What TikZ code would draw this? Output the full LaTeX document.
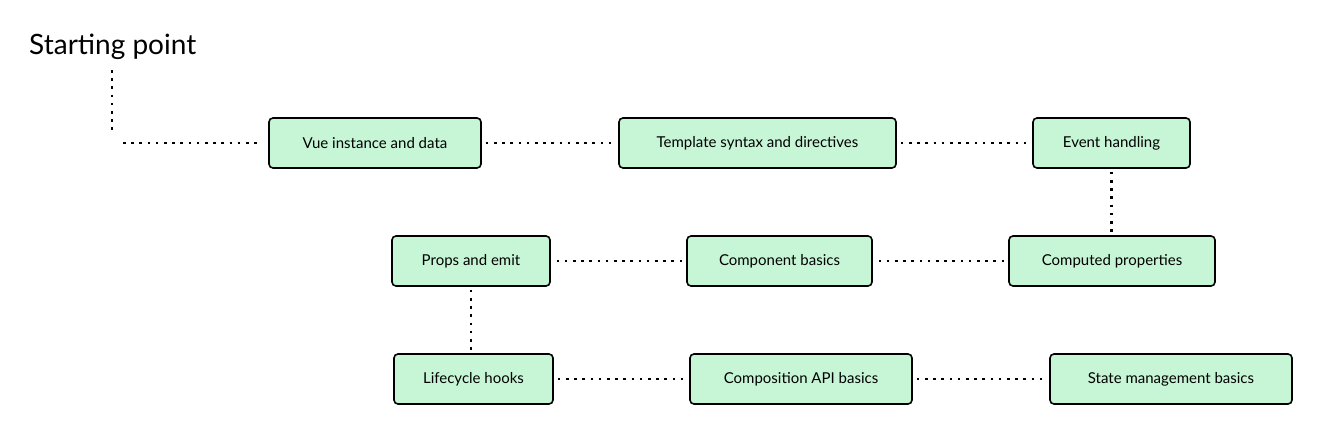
\documentclass[tikz,border=0pt]{standalone}
\usepackage{fontspec}
\setmainfont{Lato}
\definecolor{boxfill}{RGB}{198,246,214}
\begin{document}
\begin{tikzpicture}[x=1bp,y=-1bp,
  topic/.style={draw=black,line width=1.6bp,rounded corners=4bp,fill=boxfill,
    minimum height=50bp,inner sep=0pt,font=\fontsize{15bp}{18bp}\selectfont,text=black},
  link/.style={line width=2.6bp,dash pattern=on 2.6bp off 5.6bp},
]
\useasboundingbox (0,0) rectangle (1329,446);
\node[anchor=base west,inner sep=0pt,font=\fontsize{28bp}{32bp}\selectfont] (start) at (29,55) {Starting point};
\node[topic,minimum width=212bp] (vue) at (375,143) {Vue instance and data};
\node[topic,minimum width=277bp] (tpl) at (757.5,143) {Template syntax and directives};
\node[topic,minimum width=157bp] (evt) at (1111.5,143) {Event handling};
\node[topic,minimum width=158bp] (props) at (471,261) {Props and emit};
\node[topic,minimum width=185bp] (comp) at (779.5,261) {Component basics};
\node[topic,minimum width=206bp] (cmp) at (1112,261) {Computed properties};
\node[topic,minimum width=159bp] (life) at (473.5,379) {Lifecycle hooks};
\node[topic,minimum width=222bp] (capi) at (801,379) {Composition API basics};
\node[topic,minimum width=242bp] (state) at (1171,379) {State management basics};
\coordinate (corner) at (112,143);
\draw[link] (112,70) -- (112,130);
\draw[link,shorten >=10bp] (123,143) -- (vue.west);
\draw[link,shorten <=4bp,shorten >=4bp] (vue) -- (tpl);
\draw[link,shorten <=4bp,shorten >=4bp] (tpl) -- (evt);
\draw[link,shorten <=3bp,shorten >=3bp] (evt) -- (evt |- cmp.north);
\draw[link,shorten <=4bp,shorten >=4bp] (cmp) -- (comp);
\draw[link,shorten <=4bp,shorten >=4bp] (comp) -- (props);
\draw[link,shorten <=3bp,shorten >=3bp] (props) -- (props |- life.north);
\draw[link,shorten <=4bp,shorten >=4bp] (life) -- (capi);
\draw[link,shorten <=4bp,shorten >=4bp] (capi) -- (state);
\end{tikzpicture}
\end{document}
